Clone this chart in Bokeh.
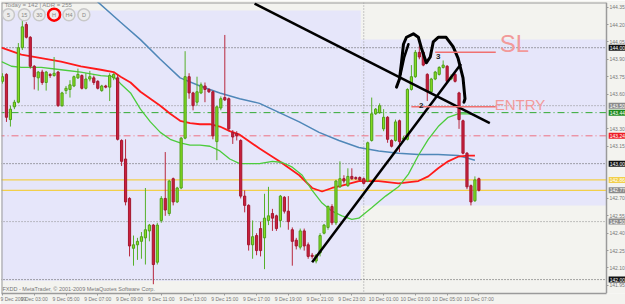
from bokeh.plotting import figure
from bokeh.models import (ColumnDataSource, FixedTicker, Range1d, Span, Label, LinearAxis,
                          BoxAnnotation, PrintfTickFormatter)
from bokeh.core.properties import value
from bokeh.embed import file_html
from bokeh.resources import INLINE

# ---------------- data (M15 bars) ----------------
opens = [143.71, 143.77, 143.38, 143.49, 143.53, 144.00, 144.20, 144.09, 143.84, 143.74,
         143.79, 143.70, 143.77, 143.76, 143.79, 143.50, 143.63, 143.64, 143.67, 143.74,
         143.76, 143.65, 143.73, 143.74, 143.71, 143.63, 143.67, 143.66, 143.74, 143.74,
         143.20, 143.04, 142.70, 142.27, 142.30, 142.33, 142.36, 142.42, 142.47, 142.15,
         142.51, 142.70, 142.57, 142.87, 142.67, 142.79, 143.22, 143.75, 143.61, 143.53,
         143.61, 143.67, 143.64, 143.62, 143.19, 143.48, 143.57, 143.56, 143.27, 143.26,
         143.20, 142.72, 142.64, 142.30, 142.38, 142.44, 142.36, 142.51, 142.57, 142.55,
         142.51, 142.71, 142.59, 142.43, 142.34, 142.28, 142.42, 142.30, 142.21, 142.16,
         142.23, 142.40, 142.45, 142.63, 142.49, 142.80, 142.87, 142.81, 142.89, 142.88,
         142.88, 142.87, 142.85, 143.20, 143.43, 143.44, 143.30, 143.40, 143.20, 143.20,
         143.37, 143.21, 143.21, 143.64, 143.75, 143.96, 143.96, 143.77, 143.62, 143.73,
         143.77, 143.83, 143.84, 143.73, 143.77, 143.61, 143.37, 143.09, 142.81, 142.68,
         142.87]
highs = [143.78, 143.78, 143.50, 143.55, 144.04, 144.30, 144.22, 144.10, 143.85, 143.80,
         143.81, 143.80, 143.78, 143.92, 143.80, 143.62, 143.67, 143.72, 143.76, 143.82,
         143.77, 143.78, 143.80, 143.76, 143.72, 143.68, 143.68, 143.78, 143.78, 143.77,
         143.21, 143.21, 142.71, 142.38, 142.36, 142.41, 142.79, 142.48, 142.48, 142.49,
         142.72, 143.10, 142.86, 142.88, 142.80, 143.23, 143.97, 143.78, 143.62, 143.75,
         143.70, 143.70, 143.65, 143.63, 143.50, 143.58, 144.11, 143.57, 143.29, 143.28,
         143.21, 142.77, 142.65, 142.51, 142.40, 142.50, 142.74, 142.80, 142.61, 142.56,
         142.73, 142.72, 142.72, 142.45, 142.36, 142.44, 142.44, 142.32, 142.23, 142.22,
         142.40, 142.48, 142.64, 142.65, 142.86, 143.02, 142.90, 142.96, 142.96, 142.89,
         142.89, 142.88, 143.19, 143.57, 143.48, 143.52, 143.47, 143.41, 143.21, 143.38,
         143.38, 143.24, 143.65, 143.85, 143.98, 144.02, 143.97, 143.78, 143.74, 143.80,
         143.84, 143.89, 143.85, 143.77, 143.78, 143.62, 143.38, 143.10, 142.82, 142.89,
         142.88]
lows = [143.69, 143.36, 143.32, 143.47, 143.52, 143.98, 144.08, 143.82, 143.64, 143.63,
        143.68, 143.63, 143.74, 143.75, 143.49, 143.49, 143.60, 143.57, 143.66, 143.73,
        143.64, 143.64, 143.71, 143.68, 143.64, 143.62, 143.65, 143.54, 143.72, 143.20,
        142.98, 142.64, 142.20, 142.12, 142.17, 142.18, 142.13, 142.33, 141.96, 142.13,
        142.49, 142.55, 142.55, 142.64, 142.66, 142.78, 143.21, 143.56, 143.46, 143.50,
        143.60, 143.53, 143.61, 143.21, 143.03, 143.46, 143.54, 143.28, 143.17, 143.20,
        142.70, 142.58, 142.25, 142.18, 142.21, 142.20, 142.09, 142.47, 142.42, 142.42,
        142.45, 142.57, 142.43, 142.12, 142.26, 142.26, 142.25, 142.18, 142.18, 142.14,
        142.20, 142.39, 142.43, 142.47, 142.47, 142.79, 142.83, 142.80, 142.86, 142.86,
        142.85, 142.82, 142.84, 143.19, 143.42, 143.43, 143.28, 143.18, 143.14, 143.19,
        143.10, 143.19, 143.20, 143.63, 143.74, 143.90, 143.84, 143.54, 143.61, 143.72,
        143.76, 143.82, 143.70, 143.72, 143.70, 143.30, 143.08, 142.78, 142.64, 142.67,
        142.76]
closes = [143.75, 143.40, 143.47, 143.53, 144.00, 144.18, 144.09, 143.84, 143.75, 143.79,
          143.70, 143.79, 143.76, 143.78, 143.50, 143.61, 143.65, 143.68, 143.75, 143.77,
          143.65, 143.73, 143.75, 143.70, 143.65, 143.67, 143.66, 143.76, 143.77, 143.21,
          143.02, 142.67, 142.29, 142.30, 142.33, 142.37, 142.43, 142.47, 142.13, 142.47,
          142.70, 142.60, 142.85, 142.67, 142.79, 143.22, 143.75, 143.61, 143.50, 143.62,
          143.68, 143.64, 143.62, 143.24, 143.49, 143.56, 143.55, 143.30, 143.23, 143.24,
          142.72, 142.64, 142.30, 142.37, 142.25, 142.25, 142.53, 142.55, 142.53, 142.44,
          142.72, 142.59, 142.50, 142.33, 142.29, 142.42, 142.29, 142.20, 142.20, 142.21,
          142.38, 142.47, 142.63, 142.49, 142.85, 142.87, 142.85, 142.89, 142.87, 142.87,
          142.86, 142.83, 143.18, 143.43, 143.47, 143.50, 143.40, 143.21, 143.15, 143.36,
          143.19, 143.22, 143.64, 143.75, 143.96, 143.92, 143.85, 143.62, 143.73, 143.79,
          143.83, 143.85, 143.71, 143.75, 143.71, 143.38, 143.09, 142.80, 142.67, 142.86,
          142.77]

# moving averages (bar position, price)
ma_slow_x = [22.0, 23.5, 29.75, 34.75, 39.75, 44.75, 49.75, 54.75, 59.75, 64.75, 69.75,
             74.75, 79.75, 84.75, 89.75, 94.75, 99.75, 104.75, 109.75, 114.75, 119.0]
ma_slow_y = [144.50, 144.41, 144.22, 144.07, 143.90, 143.74, 143.67, 143.61, 143.56, 143.52,
             143.44, 143.36, 143.27, 143.20, 143.14, 143.11, 143.09, 143.08, 143.08, 143.07,
             143.03]
ma_mid_x = [-0.25, 4.75, 9.75, 14.75, 19.75, 24.75, 28.0, 29.75, 32.25, 34.75, 37.25, 39.75,
            42.25, 44.75, 47.25, 49.75, 52.25, 54.75, 57.25, 59.75, 64.75, 69.75, 74.75, 78.0,
            80.5, 83.0, 85.5, 89.75, 94.75, 99.75, 104.75, 107.25, 109.75, 112.25, 114.75,
            117.25, 119.0]
ma_mid_y = [144.00, 143.94, 143.91, 143.88, 143.84, 143.81, 143.79, 143.75, 143.70, 143.62,
            143.56, 143.50, 143.43, 143.37, 143.35, 143.34, 143.34, 143.32, 143.28, 143.25,
            143.13, 143.02, 142.90, 142.79, 142.76, 142.79, 142.81, 142.85, 142.85, 142.83,
            142.85, 142.89, 142.96, 143.02, 143.06, 143.07, 143.07]
ma_fast_x = [-0.25, 2.25, 4.75, 9.75, 14.75, 19.75, 24.75, 28.0, 29.75, 32.25, 34.75, 37.25,
             39.75, 42.25, 44.75, 47.25, 49.75, 52.25, 54.75, 57.25, 59.75, 64.75, 68.0,
             70.5, 73.0, 75.5, 78.0, 80.5, 83.0, 85.5, 88.0, 89.75, 93.0, 96.5, 99.75,
             102.25, 104.75, 107.25, 109.75, 112.25, 114.75, 117.25, 119.0]
ma_fast_y = [143.88, 143.84, 143.83, 143.83, 143.81, 143.79, 143.76, 143.75, 143.69, 143.61,
             143.47, 143.36, 143.27, 143.21, 143.18, 143.16, 143.16, 143.15, 143.11, 143.04,
             143.00, 143.00, 143.02, 143.01, 142.97, 142.90, 142.77, 142.66, 142.59, 142.55,
             142.52, 142.53, 142.62, 142.72, 142.80, 142.91, 143.07, 143.21, 143.32, 143.40,
             143.43, 143.43, 143.42]

# horizontal price levels
levels = [144.00, 143.50, 143.44, 143.24, 143.00, 142.86, 142.77, 142.50, 142.00]
level_colors = ["#555555", "#8a8a8a", "#33aa33", "#ee7080", "#555555", "#f2cf4a", "#f2cf4a",
                "#8a8a8a", "#555555"]
level_dash = ["1 2", "1 2", "7 3 1 3", "7 3 1 3", "1 2", "solid", "solid", "1 2", "1 2"]
level_box = ["#111111", "#8a8a8a", "#1d8a1d", "#ee1c24", "#111111", "#f2cf4a", "#8a8a8a",
             "#8a8a8a", "#111111"]

# price-scale ticks (those hidden under level boxes are left out)
price_ticks = [141.95, 142.10, 142.25, 142.40, 142.55, 142.70, 143.15,
               143.30, 143.60, 143.75, 143.90, 144.05, 144.20, 144.35]
time_ticks = [0, 8, 16, 24, 32, 40, 48, 56, 64, 72, 80, 88, 96, 104, 112, 120]
time_labels = ["9 Dec 2009", "9 Dec 03:00", "9 Dec 05:00", "9 Dec 07:00", "9 Dec 09:00",
               "9 Dec 11:00", "9 Dec 13:00", "9 Dec 15:00", "9 Dec 17:00", "9 Dec 19:00",
               "9 Dec 21:00", "9 Dec 23:00", "10 Dec 01:00", "10 Dec 03:00",
               "10 Dec 05:00", "10 Dec 07:00"]

# drawn objects
trend_down_x = [63.5, 122.75]
trend_down_y = [144.38, 143.35]
trend_up_x = [78.0, 115.5]
trend_up_y = [142.15, 143.86]
m_x = [99.25, 100.0, 100.5, 101.0, 101.75, 103.5, 104.75, 105.5, 106.75, 107.75, 108.5,
       109.75, 111.75, 113.5, 114.75, 116.0, 116.5, 116.25]
m_y = [143.66, 143.73, 143.87, 144.03, 144.09, 144.12, 144.09, 144.00, 143.87, 143.92,
       144.05, 144.09, 144.09, 144.01, 143.91, 143.74, 143.56, 143.53]
m2_x = [100.25, 101.2, 102.25]
m2_y = [143.77, 143.92, 144.03]
sl_x = [109.0, 124.25]
sl_y = [143.96, 143.96]
entry_x = [103.0, 124.25]
entry_y = [143.49, 143.49]

# -------------------------------------------------------------------------------
X0 = -0.25          # left edge of the chart
XE = 152.14         # right edge of the price area (where the price scale sits)
X1 = 156.93         # canvas right edge
Y0, Y1 = 141.88, 144.39
p = figure(width=625, height=304, x_range=Range1d(X0, X1), y_range=Range1d(Y0, Y1),
           y_axis_location=None, output_backend="svg", toolbar_location=None,
           min_border_left=1, min_border_right=0, min_border_top=2, min_border_bottom=8,
           background_fill_color="#f3f3ef", border_fill_color="#f3f3ef")
p.xgrid.visible = False
p.ygrid.visible = False
p.outline_line_color = None

# session boxes
p.add_layout(BoxAnnotation(left=-2, right=90.25, bottom=141.99, top=144.32,
                           fill_color="#e6e6fa", fill_alpha=1, line_alpha=0, level="underlay"))
p.add_layout(BoxAnnotation(left=90.25, right=XE, bottom=142.64, top=144.07,
                           fill_color="#e6e6fa", fill_alpha=1, line_alpha=0, level="underlay"))
p.add_layout(Span(location=91, dimension="height", line_color="#9a9a9a", line_dash="1 2",
                  line_width=1, level="underlay"))

for lv, col, dsh in zip(levels, level_colors, level_dash):
    p.segment(x0=[X0 - 1], y0=[lv], x1=[XE], y1=[lv], line_color=col, line_dash=dsh,
              line_width=1.3 if dsh == "solid" else 1)

# chart frame lines (top / left)
p.line([X0, XE], [Y1, Y1], line_color="#9a9a9a", line_width=2)
p.line([X0, X0], [Y0, Y1], line_color="#9a9a9a", line_width=2)

# moving averages
p.line(ma_slow_x, ma_slow_y, line_color="#4f87b8", line_width=1.5)
p.line(ma_mid_x, ma_mid_y, line_color="#ff1a1a", line_width=1.8)
p.line(ma_fast_x, ma_fast_y, line_color="#4ccc3c", line_width=1.3)

# candles
idx = list(range(len(opens)))
up = [i for i in idx if closes[i] >= opens[i]]
dn = [i for i in idx if closes[i] < opens[i]]
src_up = ColumnDataSource(dict(x=up, o=[opens[i] for i in up], c=[closes[i] for i in up],
                               h=[highs[i] for i in up], l=[lows[i] for i in up]))
src_dn = ColumnDataSource(dict(x=dn, o=[opens[i] for i in dn], c=[closes[i] for i in dn],
                               h=[highs[i] for i in dn], l=[lows[i] for i in dn]))
p.segment(x0="x", y0="l", x1="x", y1="h", source=src_up, line_color="#55b02a", line_width=1)
p.segment(x0="x", y0="l", x1="x", y1="h", source=src_dn, line_color="#b8283e", line_width=1)
p.vbar(x="x", width=0.55, bottom="o", top="c", source=src_up, fill_color="#86e021",
       line_color="#4f9e1a", line_width=1)
p.vbar(x="x", width=0.55, bottom="c", top="o", source=src_dn, fill_color="#cc1f3d",
       line_color="#a3182f", line_width=1)

# hand-drawn objects
p.line(trend_down_x, trend_down_y, line_color="black", line_width=2.5)
p.line(trend_up_x, trend_up_y, line_color="black", line_width=2.5)
p.line(m_x, m_y, line_color="black", line_width=3, line_join="round", line_cap="round")
p.line(m2_x, m2_y, line_color="black", line_width=2.5, line_cap="round")
p.line(sl_x, sl_y, line_color="#f07070", line_width=1.5)
p.line(entry_x, entry_y, line_color="#f07070", line_width=1.5)
p.text(x=[125.25], y=[143.92], text=["SL"],
       text_font=value("Liberation Sans"), text_font_size="24px",
       text_color="#f29a9a", text_baseline="bottom")
p.text(x=[124.0], y=[143.44], text=["ENTRY"],
       text_font=value("Liberation Sans"), text_font_size="15px",
       text_color="#f29a9a", text_baseline="bottom")
p.text(x=[105.5, 109.75], y=[143.50, 143.92], text=["2", "3"],
       text_font=value("Liberation Sans"), text_font_size="8px", text_font_style="bold",
       text_color="#222222", text_align="center", text_baseline="middle")

# top-left info and timeframe buttons
p.text(x=[0.6], y=[144.37], text=["Today = 142   |   ADR = 255"],
       text_font=value("Liberation Sans"), text_font_size="6px", text_color="#888888",
       text_baseline="middle")
btn_x = [1.5, 5.5, 9.25, 13.0, 16.75, 20.5]
btn_y = [144.285] * 6
btn_lbl = ["5", "15", "30", "H", "H4", "D"]
btn_ring = ["#c8c8c8", "#c8c8c8", "#c8c8c8", "#ff0000", "#c8c8c8", "#c8c8c8"]
btn_w = [1.5, 1.5, 1.5, 2.5, 1.5, 1.5]
p.scatter(btn_x, btn_y, marker="circle", size=12, fill_color="#ececec", line_color=btn_ring,
          line_width=btn_w)
p.text(x=btn_x, y=btn_y, text=btn_lbl, text_font=value("Liberation Sans"),
       text_font_size="5.5px", text_color="#888888", text_align="center", text_baseline="middle")
p.text(x=[0.0], y=[141.92], text=["FXDD - MetaTrader, \u00a9 2001-2009 MetaQuotes Software Corp."],
       text_font=value("Liberation Sans"), text_font_size="5.5px", text_color="#777777",
       text_baseline="middle")

# price axis drawn at the right edge of the price area
ya = LinearAxis(fixed_location=XE, ticker=FixedTicker(ticks=price_ticks),
                formatter=PrintfTickFormatter(format="%.2f"))
ya.major_label_text_font = "Liberation Sans"
ya.major_label_text_font_size = "5px"
ya.major_label_text_color = "#777777"
ya.major_tick_out = 2
ya.major_tick_in = 0
ya.minor_tick_line_color = None
ya.major_label_standoff = 1
ya.axis_line_color = "#9a9a9a"
ya.axis_line_width = 1.5
ya.major_tick_line_color = "#9a9a9a"
p.add_layout(ya, "right")

xa = p.xaxis[0]
xa.ticker = FixedTicker(ticks=time_ticks)
xa.major_label_overrides = {t: s for t, s in zip(time_ticks, time_labels)}
xa.major_label_text_align = "left"
xa.major_label_text_font = "Liberation Sans"
xa.major_label_text_font_size = "5px"
xa.major_label_text_color = "#777777"
xa.major_tick_out = 2
xa.major_tick_in = 0
xa.minor_tick_line_color = None
xa.major_label_standoff = 0
xa.axis_line_color = "#9a9a9a"
xa.axis_line_width = 1.5
xa.major_tick_line_color = "#9a9a9a"
xa.bounds = (X0, XE)

# price boxes on the price scale
for lv, bc in zip(levels, level_box):
    p.add_layout(Label(x=XE + 0.55, y=lv, text="%.2f" % lv,
                       text_font="Liberation Sans", text_font_size="5px", text_color="white",
                       text_baseline="middle", text_align="left", padding=1,
                       background_fill_color=bc, background_fill_alpha=1))

open("out.html", "w").write(file_html(p, INLINE))
